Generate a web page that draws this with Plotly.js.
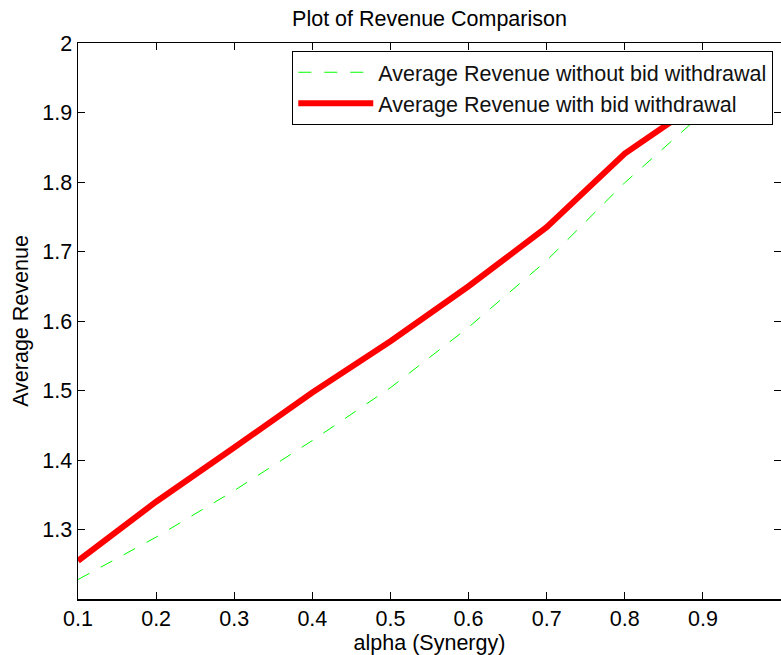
<!DOCTYPE html>
<html>
<head>
<meta charset="utf-8">
<script src="https://cdn.plot.ly/plotly-3.0.1.min.js"></script>
<style>
html,body{margin:0;padding:0;background:#fff;}
#chart{width:781px;height:655px;}
</style>
</head>
<body>
<div id="chart"></div>
<script>
var alpha = [0.1, 0.2, 0.3, 0.4, 0.5, 0.6, 0.7, 0.8, 0.9];
var revenueWithout = [1.228, 1.289, 1.356, 1.428, 1.504, 1.591, 1.687, 1.799, 1.899];
var revenueWith = [1.255, 1.340, 1.418, 1.497, 1.571, 1.650, 1.735, 1.841, 1.918];
var xTicks = [0.1, 0.2, 0.3, 0.4, 0.5, 0.6, 0.7, 0.8, 0.9, 1];
var xTickText = ['0.1', '0.2', '0.3', '0.4', '0.5', '0.6', '0.7', '0.8', '0.9', '1'];
var yTicks = [1.3, 1.4, 1.5, 1.6, 1.7, 1.8, 1.9, 2];
var yTickText = ['1.3', '1.4', '1.5', '1.6', '1.7', '1.8', '1.9', '2'];

var FONT = 'Liberation Sans, Arial, Helvetica, sans-serif';
var FS = 21.5;

var traces = [
  {
    x: alpha, y: revenueWithout, type: 'scatter', mode: 'lines',
    name: 'Average Revenue without bid withdrawal',
    line: {color: '#00ff00', width: 1, dash: '13px,13px'}
  },
  {
    x: alpha, y: revenueWith, type: 'scatter', mode: 'lines',
    name: 'Average Revenue with bid withdrawal',
    line: {color: '#ff0000', width: 6}
  }
];

var layout = {
  width: 781, height: 655,
  margin: {l: 78, r: 0, t: 43, b: 56, pad: 0},
  paper_bgcolor: '#ffffff', plot_bgcolor: '#ffffff',
  font: {family: FONT, size: FS, color: '#000'},
  title: {text: 'Plot of Revenue Comparison', font: {family: FONT, size: FS, color: '#000'},
          x: 0.5, xref: 'paper', xanchor: 'center', y: 0.972, yref: 'container', yanchor: 'middle'},
  showlegend: true,
  legend: {
    x: 0.989, xanchor: 'right', y: 0.986, yanchor: 'top',
    bgcolor: '#ffffff', bordercolor: '#000', borderwidth: 1,
    font: {family: FONT, size: FS, color: '#111'},
    itemwidth: 75, tracegroupgap: 0
  },
  xaxis: {
    range: [0.1, 1.0], tickvals: xTicks, ticktext: xTickText,
    ticks: 'inside', ticklen: 7, tickwidth: 1, tickcolor: '#000',
    showline: true, linecolor: '#000', linewidth: 1.5, mirror: 'ticks',
    showgrid: false, zeroline: false,
    tickfont: {family: FONT, size: FS, color: '#000'},
    title: {text: 'alpha (Synergy)', font: {family: FONT, size: FS, color: '#000'}, standoff: 6}
  },
  yaxis: {
    range: [1.2, 2.0], tickvals: yTicks, ticktext: yTickText,
    ticks: 'inside', ticklen: 7, tickwidth: 1, tickcolor: '#000',
    showline: true, linecolor: '#000', linewidth: 1.5, mirror: 'ticks',
    showgrid: false, zeroline: false,
    tickfont: {family: FONT, size: FS, color: '#000'},
    title: {text: 'Average Revenue', font: {family: FONT, size: FS, color: '#000'}, standoff: 8}
  }
};

Plotly.newPlot('chart', traces, layout, {displayModeBar: false, staticPlot: true});
</script>
</body>
</html>
